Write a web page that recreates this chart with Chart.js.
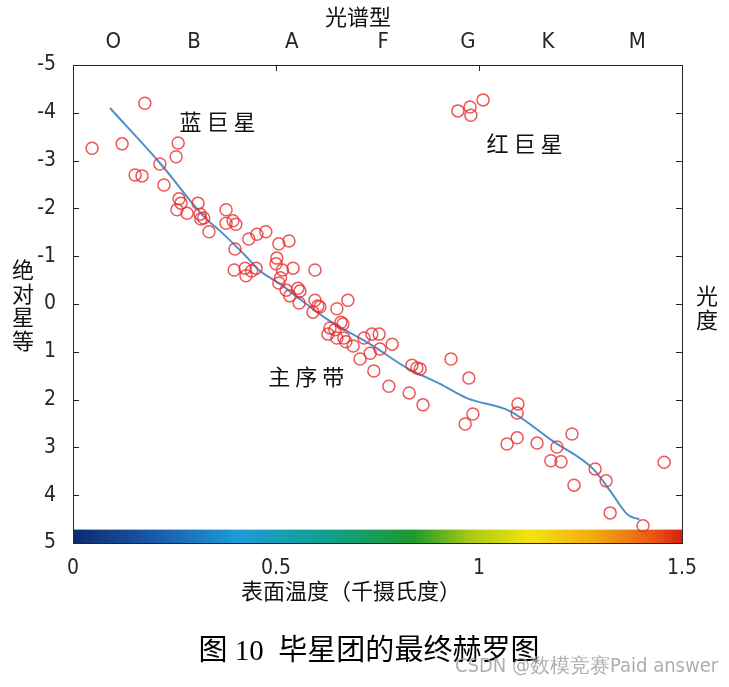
<!DOCTYPE html>
<html>
<head>
<title>毕星团的最终赫罗图</title>
<script src="https://cdn.jsdelivr.net/npm/chart.js"></script>
<style>
  html, body { margin: 0; padding: 0; background: #fff; }
</style>
</head>
<body>
<canvas id="hr" width="729" height="687"></canvas>
<script>
// surface temperature (thousand deg) and absolute magnitude of each star
const starTemp = [0.177, 0.047, 0.121, 0.259, 0.254, 0.214, 0.153, 0.170, 0.224, 0.261,
  0.266, 0.256, 0.281, 0.308, 0.313, 0.315, 0.322, 0.335, 0.377, 0.377,
  0.394, 0.401, 0.399, 0.433, 0.453, 0.475, 0.507, 0.532, 0.502, 0.397,
  0.424, 0.426, 0.440, 0.451, 0.500, 0.516, 0.511, 0.542, 0.596, 0.507,
  0.525, 0.554, 0.559, 0.534, 0.557, 0.596, 0.603, 0.608, 0.591, 0.677,
  0.650, 0.660, 0.665, 0.633, 0.628, 0.645, 0.650, 0.667, 0.672, 0.690,
  0.717, 0.736, 0.754, 0.732, 0.756, 0.786, 0.707, 0.741, 0.778, 0.835,
  0.847, 0.855, 0.828, 0.931, 0.975, 0.862, 1.096, 1.094, 0.985, 0.966,
  1.094, 1.069, 1.143, 1.229, 1.192, 1.177, 1.202, 1.286, 1.313, 1.234,
  1.323, 1.456, 1.404, 0.948, 0.978, 0.980, 1.010];
const starMag = [-4.20, -3.26, -3.35, -3.37, -3.08, -2.93, -2.70, -2.68, -2.49, -2.20,
  -2.11, -1.97, -1.90, -2.11, -1.88, -1.78, -1.80, -1.51, -1.97, -1.69,
  -1.74, -1.67, -1.15, -1.36, -1.46, -1.51, -1.26, -1.32, -0.96, -0.71,
  -0.75, -0.59, -0.69, -0.75, -0.84, -0.71, -0.55, -0.75, -0.71, -0.44,
  -0.29, -0.33, -0.27, -0.17, -0.02, -0.08, 0.04, 0.06, 0.17, -0.08,
  0.10, 0.38, 0.42, 0.50, 0.63, 0.54, 0.71, 0.71, 0.79, 0.88,
  0.71, 0.63, 0.63, 1.03, 0.94, 0.84, 1.15, 1.40, 1.72, 1.28,
  1.34, 1.36, 1.86, 1.15, 1.55, 2.11, 2.09, 2.28, 2.30, 2.51,
  2.80, 2.93, 2.91, 2.72, 2.99, 3.28, 3.30, 3.45, 3.70, 3.79,
  4.37, 3.31, 4.64, -4.04, -4.12, -3.95, -4.27];

// fitted main-sequence curve
const fitTemp = [0.091, 0.214, 0.328, 0.362, 0.426, 0.461, 0.510, 0.559, 0.633, 0.732,
  0.823, 0.904, 0.970, 1.076, 1.182, 1.281, 1.323, 1.364, 1.380, 1.395];
const fitMag = [-4.10, -2.95, -1.78, -1.53, -1.00, -0.69, -0.42, -0.10, 0.36, 0.84,
  1.34, 1.67, 1.97, 2.24, 2.87, 3.45, 3.91, 4.39, 4.47, 4.50];

const specTypes = ['O', 'B', 'A', 'F', 'G', 'K', 'M'];
const specPos = [0.099, 0.298, 0.539, 0.764, 0.973, 1.170, 1.390];
const tempTicks = [0, 0.5, 1, 1.5];
const magTicks = [-5, -4, -3, -2, -1, 0, 1, 2, 3, 4, 5];

const notes = ['蓝巨星', '红巨星', '主序带'];
const noteTemp = [0.357, 1.113, 0.576];
const noteMag = [-3.81, -3.35, 1.51];

const numFont = "'Liberation Sans Narrow', 'DejaVu Sans Condensed', 'Liberation Sans', sans-serif";
const cjkFont = "'Noto Sans CJK SC', sans-serif";
const ink = '#262626';

const decor = {
  id: 'decor',
  beforeDatasetsDraw(chart) {
    const { ctx, scales: { x, y } } = chart;
    const a = chart.chartArea;
    ctx.save();
    // inward tick marks
    ctx.strokeStyle = ink;
    ctx.lineWidth = 1;
    ctx.beginPath();
    tempTicks.forEach(t => {
      const px = Math.round(x.getPixelForValue(t)) + 0.5;
      ctx.moveTo(px, a.top); ctx.lineTo(px, a.top + 6);
    });
    magTicks.forEach(m => {
      const py = Math.round(y.getPixelForValue(m)) + 0.5;
      ctx.moveTo(a.left, py); ctx.lineTo(a.left + 6, py);
      ctx.moveTo(a.right, py); ctx.lineTo(a.right - 6, py);
    });
    ctx.stroke();
    // colour bar along the bottom
    const x0 = x.getPixelForValue(0), x1 = x.getPixelForValue(1.5);
    const y0 = y.getPixelForValue(4.72), y1 = y.getPixelForValue(5);
    const g = ctx.createLinearGradient(x0, 0, x1, 0);
    [[0, '#0d2a6e'], [0.13, '#1a58a8'], [0.27, '#1f9ad8'], [0.42, '#12a08a'],
     [0.56, '#1c9a2c'], [0.65, '#a8c814'], [0.75, '#f2e410'], [0.86, '#f0a810'],
     [0.95, '#e85a18'], [1, '#d82010']].forEach(s => g.addColorStop(s[0], s[1]));
    ctx.fillStyle = g;
    ctx.fillRect(x0, y0, x1 - x0, y1 - y0);
    ctx.restore();
  },
  afterDraw(chart) {
    const { ctx, scales: { x, y } } = chart;
    ctx.save();
    ctx.fillStyle = '#111';
    ctx.textAlign = 'center';
    ctx.textBaseline = 'middle';
    ctx.font = '22px ' + cjkFont;
    ctx.fillText('光谱型', 358, 17);
    ctx.fillText('表面温度（千摄氏度）', 351, 591);
    ['绝', '对', '星', '等'].forEach((c, i) => ctx.fillText(c, 23, 270 + i * 23.5));
    ['光', '度'].forEach((c, i) => ctx.fillText(c, 707, 296 + i * 24));

    ctx.font = '22px ' + cjkFont;
    ctx.letterSpacing = '5px';
    notes.forEach((n, i) => {
      ctx.fillText(n, x.getPixelForValue(noteTemp[i]) + 2, y.getPixelForValue(noteMag[i]));
    });
    ctx.letterSpacing = '0px';

    ctx.fillStyle = '#000';
    ctx.font = "29px 'Liberation Serif', 'Noto Sans CJK SC', serif";
    ctx.fillText('图 10  毕星团的最终赫罗图', 369, 652);

    ctx.fillStyle = 'rgba(160,160,160,0.85)';
    ctx.textAlign = 'left';
    ctx.font = '20px ' + numFont;
    ctx.fillText('CSDN @数模竞赛Paid answer', 455, 667);
    ctx.restore();
  }
};

const border = { display: true, color: ink, width: 1 };

new Chart(document.getElementById('hr'), {
  type: 'scatter',
  data: {
    datasets: [
      {
        label: 'stars',
        data: starTemp.map((t, i) => ({ x: t, y: starMag[i] })),
        pointStyle: 'circle',
        pointRadius: 6,
        pointBorderWidth: 1.5,
        pointBorderColor: 'rgba(232,45,45,0.8)',
        pointBackgroundColor: 'rgba(0,0,0,0)',
        order: 1
      },
      {
        label: 'fit',
        data: fitTemp.map((t, i) => ({ x: t, y: fitMag[i] })),
        showLine: true,
        cubicInterpolationMode: 'monotone',
        borderColor: '#4f8fca',
        borderWidth: 2,
        pointRadius: 0,
        order: 2
      }
    ]
  },
  options: {
    responsive: false,
    animation: false,
    devicePixelRatio: 1,
    layout: { padding: 0 },
    plugins: { legend: { display: false }, tooltip: { enabled: false } },
    scales: {
      x: {
        type: 'linear', position: 'bottom', min: 0, max: 1.5,
        afterBuildTicks: s => { s.ticks = tempTicks.map(v => ({ value: v })); },
        afterFit: s => { s.height = 144; },
        grid: { display: false },
        border: border,
        ticks: {
          color: ink, padding: 5, font: { family: numFont, size: 21 },
          callback: v => String(v)
        }
      },
      x2: {
        type: 'linear', position: 'top', min: 0, max: 1.5,
        afterBuildTicks: s => { s.ticks = specPos.map(v => ({ value: v })); },
        afterFit: s => { s.height = 65; },
        grid: { display: false },
        border: border,
        ticks: {
          color: ink, padding: 2, maxRotation: 0,
          font: { family: numFont, size: 22 },
          callback: (v, i) => specTypes[i]
        }
      },
      y: {
        type: 'linear', position: 'left', min: -5, max: 5, reverse: true,
        afterBuildTicks: s => { s.ticks = magTicks.map(v => ({ value: v })); },
        afterFit: s => { s.width = 73; },
        grid: { display: false },
        border: border,
        ticks: { color: ink, padding: 9, font: { family: numFont, size: 21 } }
      },
      y2: {
        type: 'linear', position: 'right', min: -5, max: 5, reverse: true,
        afterFit: s => { s.width = 47; },
        grid: { display: false },
        border: border,
        ticks: { display: false }
      }
    }
  },
  plugins: [decor]
});
</script>
</body>
</html>
